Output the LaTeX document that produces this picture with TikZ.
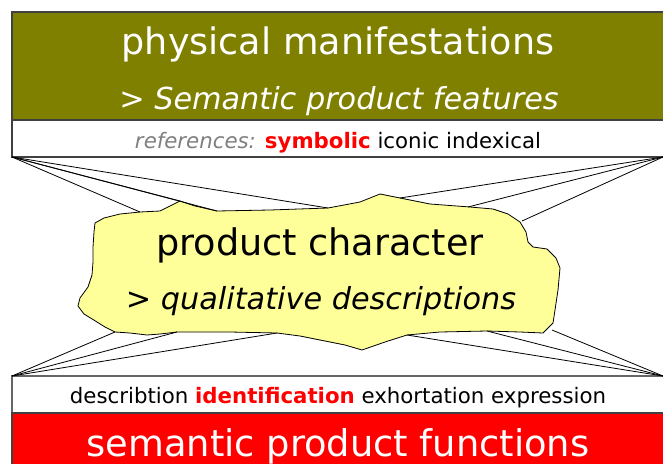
\documentclass[tikz,border=0pt]{standalone}
\usepackage{fontspec}
\setmainfont{DejaVu Sans}
\definecolor{olivebg}{HTML}{808000}
\definecolor{blobfill}{HTML}{FFFF99}
\tikzset{
  band/.style={rectangle, anchor=north west, inner sep=0pt, outer sep=0pt, draw=black!75, line width=1.2pt},
  link/.style={draw=black, line width=0.8pt},
  label/.style={inner sep=0pt, anchor=base},
}
\begin{document}
\begin{tikzpicture}[x=1pt,y=-1pt]
\useasboundingbox (0,0) rectangle (663,463);
\clip (0,0) rectangle (663,463);

% stacked bands
\node[band, fill=olivebg, minimum width=670pt, minimum height=108pt] (phys) at (12,12) {};
\node[band, fill=white, minimum width=670pt, minimum height=37pt] (refs) at (12,120) {};
\node[band, fill=white, draw=black!60, minimum width=670pt, minimum height=37pt] (funcs) at (12,376) {};
\node[band, fill=red, minimum width=670pt, minimum height=70pt] (sem) at (12,413) {};

% band texts
\node[label, text=white, font=\fontsize{36.5}{42}\selectfont] (t1) at (338,54) {physical manifestations};
\node[label, text=white, font=\fontsize{30.3}{36}\selectfont\itshape] (t2) at (339,109) {> Semantic product features};
\node[label, font=\fontsize{21.3}{25}\selectfont] (t3) at (338,148)
  {\textcolor{black!50}{\itshape references:} \textcolor{red}{\bfseries symbolic} iconic indexical};
\node[label, font=\fontsize{21.3}{25}\selectfont] (t4) at (338,403)
  {describtion \textcolor{red}{\bfseries identification} exhortation expression};
\node[label, text=white, font=\fontsize{36.8}{44}\selectfont] (t5) at (338,456) {semantic product functions};

% irregular blob in the middle
\draw[fill=blobfill, line width=0.8pt, line join=round]
  (95,223) -- (104,218) -- (120,214) -- (140,212) -- (160,211) -- (172,205) -- (180,201)
  -- (195,206) -- (217,211) -- (270,210) -- (328,208) -- (360,202) -- (380,194) -- (400,198)
  -- (430,204) -- (470,207) -- (493,209) -- (508,214) -- (520,222) -- (526,232) -- (528,242)
  -- (533,247) -- (547,249) -- (556,258) -- (560,268) -- (558,290) -- (555,310) -- (553,323)
  -- (543,333) -- (520,332) -- (487,331) -- (440,332) -- (407,335) -- (385,342) -- (362,350)
  -- (345,345) -- (330,342) -- (300,336) -- (277,333) -- (230,332) -- (177,332) -- (160,334)
  -- (147,335) -- (130,333) -- (115,332) -- (105,327) -- (97,322) -- (84,314) -- (78,306)
  -- (80,298) -- (88,287) -- (92,275) -- (93,262) -- (93,247) -- (94,232) -- cycle;

% link end points on the blob outline
\coordinate (a1) at (140,212);
\coordinate (a2) at (180,201);
\coordinate (a3) at (217,211);
\coordinate (a4) at (328,208);
\coordinate (b1) at (400,198);
\coordinate (b2) at (468,207);
\coordinate (b3) at (522,221);
\coordinate (c1) at (115,332);
\coordinate (c2) at (177,332);
\coordinate (c3) at (277,333);
\coordinate (d1) at (407,335);
\coordinate (d2) at (487,331);
\coordinate (d3) at (552,330);
\coordinate (rr) at (663,157);
\coordinate (fr) at (663,376);

\foreach \p in {a1,a2,a3,a4} \draw[link] (refs.south west) -- (\p);
\foreach \p in {b1,b2,b3} \draw[link] (rr) -- (\p);
\foreach \p in {c1,c2,c3} \draw[link] (funcs.north west) -- (\p);
\foreach \p in {d1,d2,d3} \draw[link] (fr) -- (\p);

\node[label, font=\fontsize{36.6}{42}\selectfont] (pc) at (320,255) {product character};
\node[label, font=\fontsize{30.3}{36}\selectfont\itshape] (qd) at (321,309) {> qualitative descriptions};
\end{tikzpicture}
\end{document}
